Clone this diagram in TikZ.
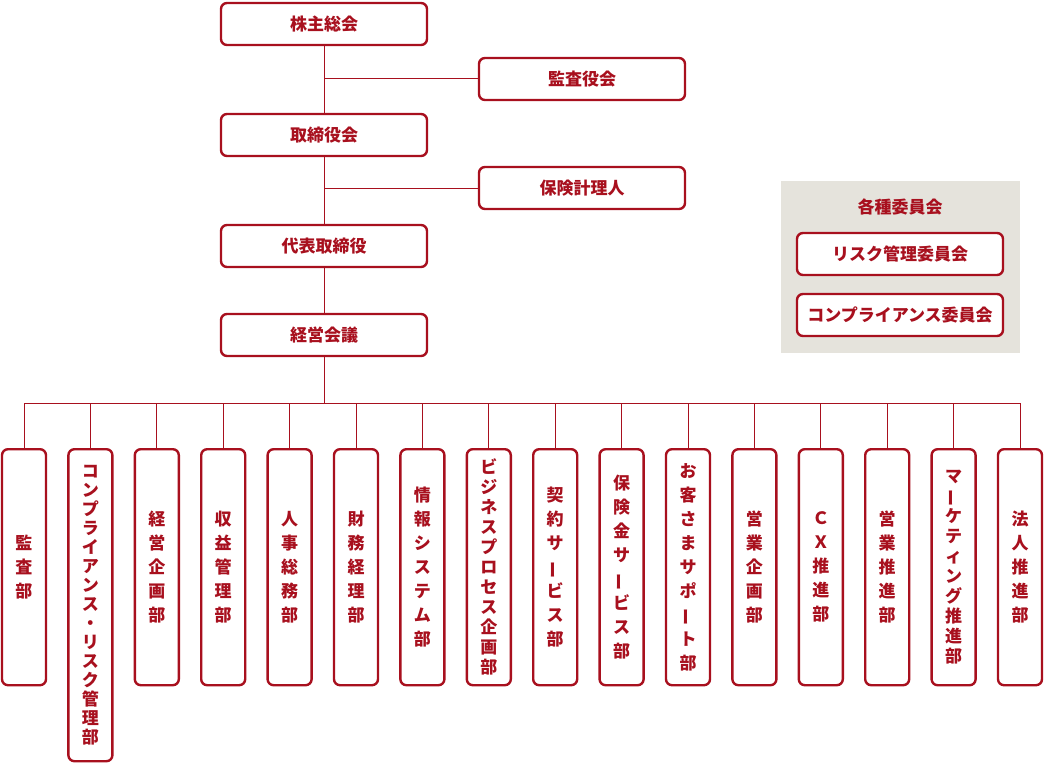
\documentclass[tikz,border=0pt]{standalone}
\usepackage{fontspec}
\newfontfamily\cjk{Noto Sans CJK JP}
\usetikzlibrary{positioning,calc}
\definecolor{orgred}{HTML}{A8101E}
\definecolor{panel}{HTML}{E5E3DC}
\newcommand{\vb}{\rotatebox[origin=c]{90}{ー}}
\tikzset{
  topbox/.style={draw=orgred, line width=2.4pt, rounded corners=6pt, fill=white, text=orgred,
    minimum width=206pt, minimum height=42pt, font=\cjk\bfseries\fontsize{17}{20}\selectfont},
  cmtbox/.style={topbox, minimum width=206pt},
  deptbox/.style={draw=orgred, line width=2.4pt, rounded corners=6pt, fill=white, text=orgred,
    minimum width=44pt, anchor=north, align=center, inner sep=0pt},
  link/.style={draw=orgred, line width=1pt}
}
\begin{document}
\begin{tikzpicture}[x=1pt,y=-1pt]
\useasboundingbox (0,0) rectangle (1046,765);
%上部%
\node[topbox] (agm) at (324,24) {株主総会};
\node[topbox] (kansa) at (582,79) {監査役会};
\node[topbox] (board) at (324,135) {取締役会};
\node[topbox] (actuary) at (582,188) {保険計理人};
\node[topbox] (ceo) at (324,246) {代表取締役};
\node[topbox] (mgmt) at (324,335) {経営会議};
\draw[link] (agm) -- (board);
\draw[link] (board) -- (ceo);
\draw[link] (ceo) -- (mgmt);
\draw[link] (324,79) coordinate (k0) -- (kansa);
\draw[link] (324,188) coordinate (a0) -- (actuary);
%各種委員会%
\fill[panel] (781,181) rectangle (1020,353);
\node[text=orgred, font=\cjk\bfseries\fontsize{17}{20}\selectfont] (cmt) at (900,207) {各種委員会};
\node[cmtbox] (risk) at (900,254) {リスク管理委員会};
\node[cmtbox] (comp) at (900,315) {コンプライアンス委員会};
%部門%
\coordinate (bus) at (324,403);
\draw[link] (mgmt) -- (bus);
\draw[link] (24,403) -- (1020,403);
\foreach \h/\p/\t [count=\i] in {
  236/24/{監\\査\\部},
  312/19/{コ\\ン\\プ\\ラ\\イ\\ア\\ン\\ス\\・\\リ\\ス\\ク\\管\\理\\部},
  236/24/{経\\営\\企\\画\\部},
  236/24/{収\\益\\管\\理\\部},
  236/24/{人\\事\\総\\務\\部},
  236/24/{財\\務\\経\\理\\部},
  236/24/{情\\報\\シ\\ス\\テ\\ム\\部},
  236/20/{ビ\\ジ\\ネ\\ス\\プ\\ロ\\セ\\ス\\企\\画\\部},
  236/24/{契\\約\\サ\\\vb\\ビ\\ス\\部},
  236/24/{保\\険\\金\\サ\\\vb\\ビ\\ス\\部},
  236/24/{お\\客\\さ\\ま\\サ\\ポ\\\vb\\ト\\部},
  236/24/{営\\業\\企\\画\\部},
  236/24/{Ｃ\\Ｘ\\推\\進\\部},
  236/24/{営\\業\\推\\進\\部},
  236/20/{マ\\\vb\\ケ\\テ\\ィ\\ン\\グ\\推\\進\\部},
  236/24/{法\\人\\推\\進\\部}} {
  \coordinate (d\i top) at ({24+66.4*(\i-1)},403);
  \node[deptbox, minimum height=\h pt, font=\cjk\bfseries\fontsize{17}{\p}\selectfont]
    (d\i) at ({24+66.4*(\i-1)},448) {\t};
  \draw[link] (d\i top) -- (d\i);
}
\end{tikzpicture}
\end{document}
